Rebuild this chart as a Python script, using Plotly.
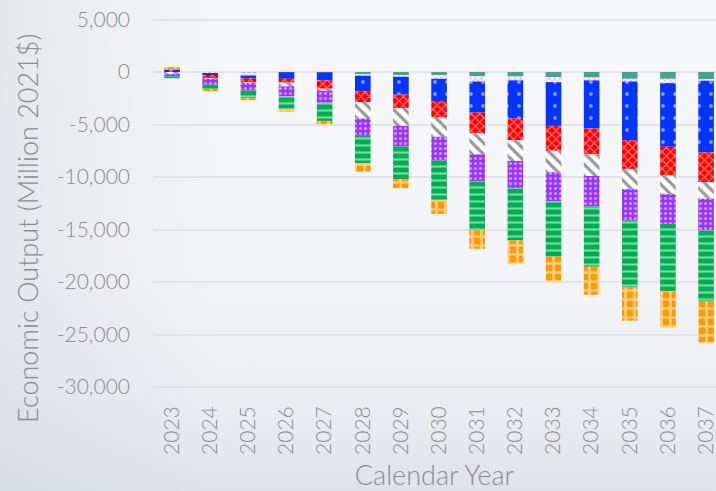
import base64
import plotly.graph_objects as go

years = [str(y) for y in range(2023, 2038)]

teal   = [0, -50, -30, -30, -50, -250, -300, -300, -400, -430, -490, -520, -650, -650, -710]
pink   = [0, -50, -300, 200, 100, -100, -150, -350, -500, -370, -475, -280, -250, -410, -125]
blue   = [240, -170, -260, -620, -730, -1470, -1710, -2110, -2970, -3630, -4165, -4580, -5590, -6060, -6815]
red    = [-30, -330, -375, -370, -810, -1040, -1270, -1580, -1980, -2060, -2370, -2460, -2740, -2740, -2840]
white  = [-150, -50, -100, -350, -190, -1570, -1700, -1830, -1990, -1990, -2050, -2060, -1930, -1770, -1580]
purple = [-250, -570, -715, -950, -1140, -1650, -1930, -2280, -2590, -2580, -2780, -2900, -3000, -2840, -3010]
green  = [-160, -480, -700, -1170, -1740, -2610, -3150, -3720, -4640, -4990, -5270, -5740, -6370, -6380, -6780]
orange = [230, -160, -220, -320, -300, -800, -850, -1350, -1770, -2210, -2360, -2690, -3160, -3470, -3880]

yticks = [5000, 0, -5000, -10000, -15000, -20000, -25000, -30000]
ytick_labels = ["5,000", "0", "-5,000", "-10,000", "-15,000", "-20,000", "-25,000", "-30,000"]

series = [
    (teal,   dict(color="#3fa58f")),
    (pink,   dict(color="#ffffff", pattern=dict(shape="x", fgcolor="#f070cc", bgcolor="#ffffff", size=4, solidity=0.5, fillmode="overlay"))),
    (blue,   dict(color="#0533ff", pattern=dict(shape=".", fgcolor="#ffffff", bgcolor="#0533ff", size=12, solidity=0.08, fillmode="overlay"))),
    (red,    dict(color="#ff0000", pattern=dict(shape="x", fgcolor="#ffffff", bgcolor="#ff0000", size=6, solidity=0.35, fillmode="overlay"))),
    (white,  dict(color="#ffffff", pattern=dict(shape="\\", fgcolor="#333333", bgcolor="#ffffff", size=8, solidity=0.4, fillmode="overlay"))),
    (purple, dict(color="#9933ff", pattern=dict(shape=".", fgcolor="#ffffff", bgcolor="#9933ff", size=5, solidity=0.3, fillmode="overlay"))),
    (green,  dict(color="#00b050", pattern=dict(shape="-", fgcolor="#ffffff", bgcolor="#00b050", size=7, solidity=0.3, fillmode="overlay"))),
    (orange, dict(color="#ff9900", pattern=dict(shape="+", fgcolor="#ffffff", bgcolor="#ff9900", size=9, solidity=0.5, fillmode="overlay"))),
]

fig = go.Figure()
for vals, mk in series:
    mk = dict(mk)
    mk["line"] = dict(width=0)
    fig.add_trace(go.Bar(x=years, y=vals, marker=mk, showlegend=False))

W, H = 716, 491
L, R, T, B = 153, 0, 16, 96
pw, ph = W - L - R, H - T - B

svg = f'''<svg xmlns="http://www.w3.org/2000/svg" width="{W}" height="{H}">
<defs>
<linearGradient id="g" x1="0" y1="0" x2="0" y2="1">
<stop offset="0" stop-color="#f6f7f9"/>
<stop offset="0.55" stop-color="#f4f5f8"/>
<stop offset="0.8" stop-color="#eceef2"/>
<stop offset="1" stop-color="#dfe3e9"/>
</linearGradient>
<linearGradient id="h" x1="0" y1="0" x2="1" y2="0">
<stop offset="0" stop-color="#c8ccd4" stop-opacity="0.35"/>
<stop offset="0.3" stop-color="#c8ccd4" stop-opacity="0"/>
</linearGradient>
</defs>
<rect width="{W}" height="{H}" fill="url(#g)"/>
<rect width="{W}" height="{H}" fill="url(#h)"/>
</svg>'''
src = "data:image/svg+xml;base64," + base64.b64encode(svg.encode()).decode()

grey = "#8c8c8c"
fig.update_layout(
    width=W, height=H,
    margin=dict(l=L, r=R, t=T, b=B, pad=0),
    barmode="relative",
    bargap=0.59,
    paper_bgcolor="#f3f4f7",
    plot_bgcolor="rgba(0,0,0,0)",
    font=dict(family="Lato", color=grey, weight=300),
    images=[dict(source=src, xref="paper", yref="paper",
                 x=-L / pw, y=1 + T / ph, sizex=W / pw, sizey=H / ph,
                 xanchor="left", yanchor="top", sizing="stretch", layer="below")],
    xaxis=dict(
        type="category", range=[-0.5, 14.26],
        tickangle=-90, tickfont=dict(size=21, color=grey, weight=300),
        showgrid=False, showline=False, zeroline=False,
        ticklabelstandoff=6,
        title=dict(text="Calendar Year", font=dict(size=27, color=grey, weight=300), standoff=12),
    ),
    yaxis=dict(
        range=[-30762, 5333],
        tickvals=yticks, ticktext=ytick_labels,
        tickfont=dict(size=21, color=grey, weight=300),
        showgrid=True, gridcolor="#e2e3e6", gridwidth=2,
        zeroline=False, showline=False,
        ticklabelstandoff=22,
    ),
    annotations=[dict(text="Economic Output (Million 2021$)", xref="paper", yref="paper",
                      x=-(L - 27) / pw, y=1 - (229 - T) / ph, textangle=-90,
                      showarrow=False, xanchor="center", yanchor="middle",
                      font=dict(size=27, color=grey, weight=300))],
)

fig.write_html("out.html")
